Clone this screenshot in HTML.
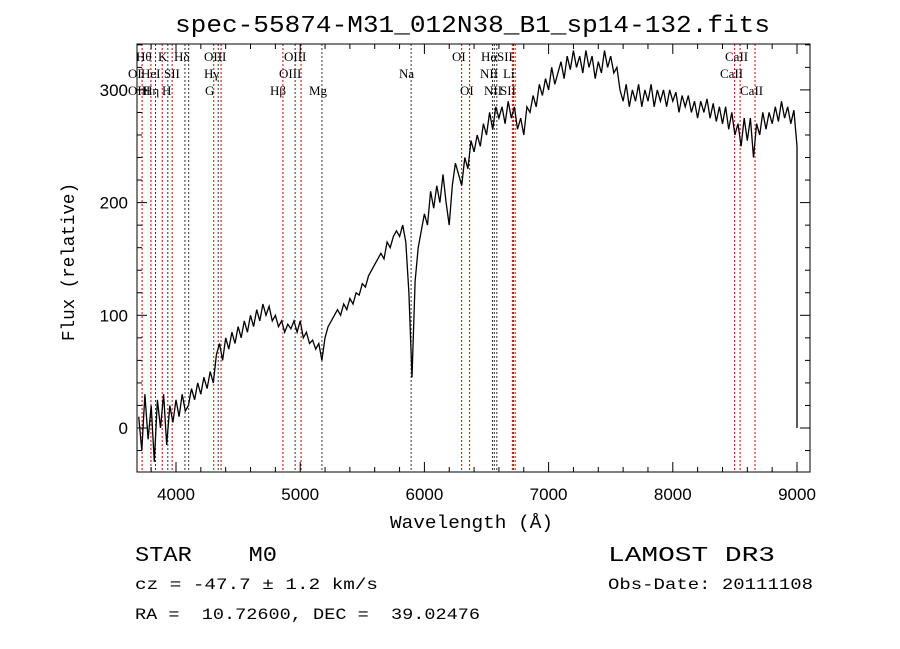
<!DOCTYPE html>
<html><head><meta charset="utf-8"><style>
body{margin:0;background:#fff}
svg{display:block}
text{font-family:"Liberation Mono",monospace;fill:#000;white-space:pre}
.tk{font-family:"Liberation Sans",sans-serif;font-size:17px}
.ln{font-family:"Liberation Serif",serif;font-size:13px}
</style></head><body>
<svg id="c" width="900" height="649">
<rect width="900" height="649" fill="#fff"/>
<text x="175" y="32" font-size="24" textLength="595" lengthAdjust="spacingAndGlyphs">spec-55874-M31_012N38_B1_sp14-132.fits</text>
<g id="lines"></g>
<g id="axes"></g>
<path id="spec" fill="none" stroke="#000" stroke-width="1.3"/>
<text x="390" y="528" font-size="18" textLength="163" lengthAdjust="spacingAndGlyphs">Wavelength (Å)</text>
<text transform="translate(74,341) rotate(-90)" font-size="18" textLength="158" lengthAdjust="spacingAndGlyphs">Flux (relative)</text>
<text x="135" y="561" font-size="21" textLength="142" lengthAdjust="spacingAndGlyphs">STAR    M0</text>
<text x="608" y="561" font-size="21" textLength="167" lengthAdjust="spacingAndGlyphs">LAMOST DR3</text>
<text x="135" y="589" font-size="16" textLength="243" lengthAdjust="spacingAndGlyphs">cz = -47.7 ± 1.2 km/s</text>
<text x="608" y="589" font-size="16" textLength="205" lengthAdjust="spacingAndGlyphs">Obs-Date: 20111108</text>
<text x="135" y="619" font-size="16" textLength="345" lengthAdjust="spacingAndGlyphs">RA =  10.72600, DEC =  39.02476</text>
</svg>
<script>
const xTicks=[4000,5000,6000,7000,8000,9000];
const yTicks=[0,100,200,300];
const wStart=3700, wStep=25;
const flux=[10,-20,30,-10,20,-30,25,0,30,-15,20,5,25,10,30,15,20,35,25,40,30,45,35,50,40,65,75,60,80,70,85,75,90,80,95,85,100,90,105,95,110,100,108,95,100,90,95,85,92,88,95,85,95,80,85,75,78,70,75,60,80,90,95,100,105,100,110,105,115,110,120,118,128,125,135,140,145,150,155,150,165,160,170,175,170,180,165,120,45,130,160,175,190,180,210,195,215,200,225,200,180,215,235,225,215,240,230,255,245,260,250,270,260,280,265,285,275,285,270,290,275,285,265,275,260,285,280,295,285,305,295,310,300,320,305,315,325,310,330,318,335,320,330,315,335,320,330,310,325,315,335,320,330,315,320,300,290,305,285,300,290,305,285,300,290,305,285,300,290,300,285,300,290,298,280,295,285,295,280,290,275,290,280,292,275,288,272,285,270,285,265,280,260,270,250,275,255,275,240,270,260,280,265,280,270,285,272,290,275,285,270,282,250];
const lineW=[3727,3798,3835,3889,3934,3969,4072,4102,4304,4340,4363,4861,4959,5007,5175,5893,6300,6364,6548,6563,6583,6708,6717,6731,8498,8542,8662];
const lineRed=[1,1,0,1,0,1,0,0,1,0,1,1,0,1,0,0,1,1,0,0,0,1,1,1,1,1,1];
const X=w=>176+(w-4000)*0.1242, Y=f=>428-f*1.127;
const NS="http://www.w3.org/2000/svg";
function mk(t,a,p){const e=document.createElementNS(NS,t);for(const k in a)e.setAttribute(k,a[k]);p.appendChild(e);return e;}
const L=document.getElementById('lines'),A=document.getElementById('axes');
lineW.forEach((w,i)=>{const e=mk('line',{x1:X(w),x2:X(w),y1:44,y2:472,stroke:lineRed[i]?'#c00':'#333','stroke-width':1,'stroke-dasharray':'2,2'},L);

});
const labs=[["Hθ",136,61],["K",158,61],["Hδ",174,61],["OIII",204,61],["OIII",284,61],["OI",128,78],["HeI",141,78],["SII",164,78],["Hγ",204,78],["OIII",279,78],["OIII",128,95],["Hη",143,95],["H",162,95],["G",205,95],["Hβ",270,95],["Mg",309,95],["Na",399,78],["OI",452,61],["Hα",481,61],["SII",497,61],["NII",480,78],["Li",503,78],["OI",460,95],["NII",484,95],["SII",500,95],["CaII",725,61],["CaII",720,78],["CaII",740,95]];
labs.forEach(l=>{const t=mk('text',{x:l[1],y:l[2],class:'ln'},L);t.textContent=l[0];

});
const fr=mk('rect',{x:137,y:44,width:673,height:428,fill:'none',stroke:'#000','stroke-width':1},A);


for(let w=3800;w<=9100;w+=200){const x=X(w);const big=w%1000===0;
mk('line',{x1:x,x2:x,y1:472,y2:472-(big?10:5),stroke:'#000'},A);mk('line',{x1:x,x2:x,y1:44,y2:44+(big?10:5),stroke:'#000'},A);}
xTicks.forEach(w=>{const t=mk('text',{x:X(w),y:500,'text-anchor':'middle',class:'tk'},A);t.textContent=w;

});
for(let f=-20;f<=340;f+=20){const y=Y(f);const big=f%100===0;
mk('line',{x1:137,x2:137+(big?10:5),y1:y,y2:y,stroke:'#000'},A);mk('line',{x1:810,x2:810-(big?10:5),y1:y,y2:y,stroke:'#000'},A);}
yTicks.forEach(f=>{const t=mk('text',{x:128,y:Y(f)+6,'text-anchor':'end',class:'tk'},A);t.textContent=f;

});
let d='';flux.forEach((f,i)=>{d+=(i?'L':'M')+X(wStart+i*wStep).toFixed(1)+','+Math.min(472,Math.max(44,Y(f))).toFixed(1);});
d+='L'+X(9000).toFixed(1)+','+Y(0).toFixed(1);
document.getElementById('spec').setAttribute('d',d);
</script>
</body></html>
